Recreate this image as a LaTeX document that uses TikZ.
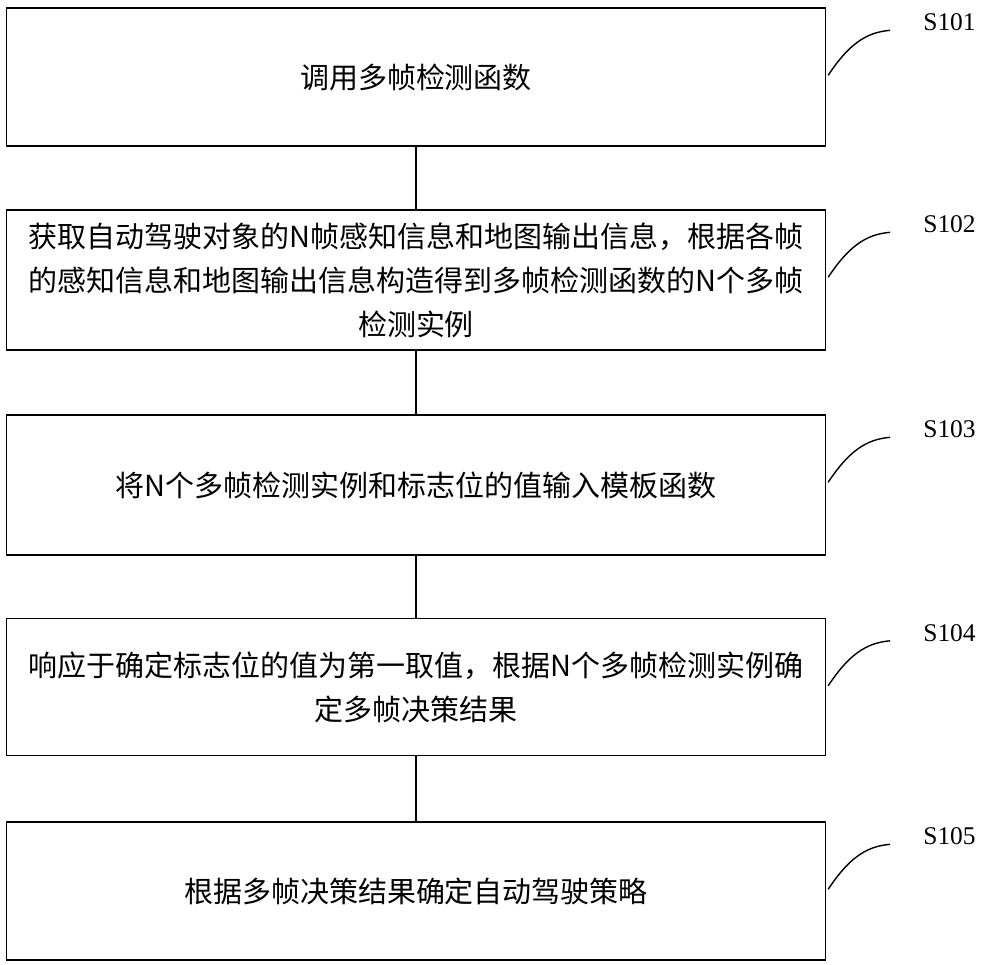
\documentclass[tikz,border=0pt]{standalone}
\usepackage{fontspec}
\setmainfont{Liberation Serif}
\newfontfamily\cjk{Noto Sans CJK SC}
\usetikzlibrary{calc}
\tikzset{
  stepbox/.style={draw,thick,minimum width=16.38cm,minimum height=2.76cm,align=center,font=\cjk\fontsize{16.5}{25}\selectfont,inner sep=0pt},
  tag/.style={font=\fontsize{14.5}{16}\selectfont,anchor=west}
}
\begin{document}
\begin{tikzpicture}[x=0.02cm,y=-0.02cm]
  \useasboundingbox (0,0) rectangle (1000,964);
  \node[stepbox] (b1) at (416,77) {调用多帧检测函数};
  \node[stepbox,minimum height=2.8cm] (b2) at (416,280) {获取自动驾驶对象的N帧感知信息和地图输出信息，根据各帧\\的感知信息和地图输出信息构造得到多帧检测函数的N个多帧\\检测实例};
  \node[stepbox,minimum height=2.8cm] (b3) at (416,485) {将N个多帧检测实例和标志位的值输入模板函数};
  \node[stepbox,minimum height=2.74cm] (b4) at (416,687) {响应于确定标志位的值为第一取值，根据N个多帧检测实例确\\定多帧决策结果};
  \node[stepbox] (b5) at (416,891) {根据多帧决策结果确定自动驾驶策略};
  \draw[thick] (b1) -- (b2);
  \draw[thick] (b2) -- (b3);
  \draw[thick] (b3) -- (b4);
  \draw[thick] (b4) -- (b5);
  % step labels
  \foreach \b/\s in {b1/S101,b2/S102,b3/S103,b4/S104,b5/S105}{
    \coordinate (c) at ($(\b.north east)+(2,68)$);
    \draw[thick] (c) .. controls +(20,-30) and +(-25,2) .. ++(62,-45) coordinate (e);
    \node[tag] (t\b) at ($(e)+(27,-8)$) {\s};
  }
\end{tikzpicture}
\end{document}
